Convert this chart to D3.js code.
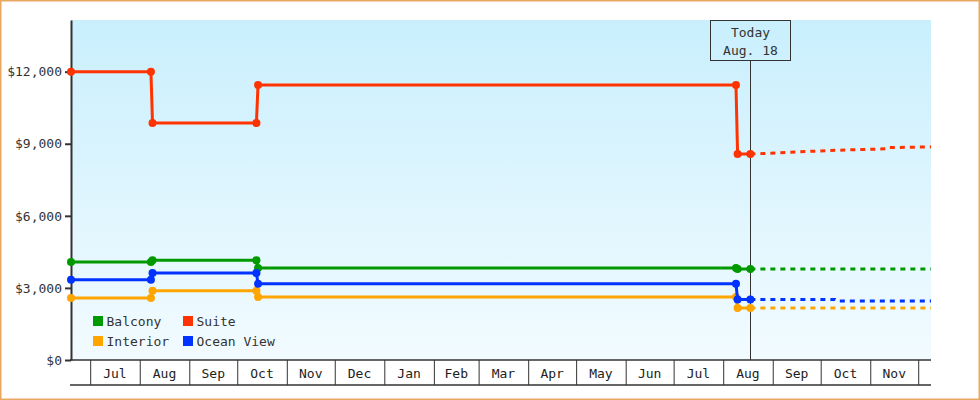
<!DOCTYPE html>
<html>
<head>
<meta charset="utf-8">
<script src="https://cdn.jsdelivr.net/npm/d3@7"></script>
<style>
  body { margin: 0; background: #fff; }
  text { font-family: "DejaVu Sans Mono", monospace; font-size: 13px; fill: #333; }
</style>
</head>
<body>
<div id="chart"></div>
<script>
// Observed prices (each price change is logged as two points, a day apart)
const obsDates  = ["2022-06-19", "2022-08-08", "2022-08-09", "2022-10-13", "2022-10-14", "2023-08-09", "2023-08-10", "2023-08-18"];
const balcony   = [4080, 4080, 4150, 4150, 3830, 3830, 3790, 3790];
const suite     = [12000, 12000, 9860, 9860, 11450, 11450, 8570, 8570];
const interior  = [2580, 2580, 2880, 2880, 2620, 2620, 2160, 2160];
const oceanView = [3340, 3340, 3620, 3620, 3170, 3170, 2520, 2520];

// Forecast prices after today
const forecastDates     = ["2023-08-18", "2023-10-10", "2023-10-11", "2023-11-12", "2023-11-13", "2023-12-09"];
const balconyForecast   = [3790, 3790, 3790, 3790, 3790, 3790];
const suiteForecast     = [8570, 8730, 8730, 8790, 8840, 8870];
const interiorForecast  = [2160, 2160, 2160, 2160, 2160, 2160];
const oceanViewForecast = [2520, 2520, 2460, 2460, 2460, 2460];

const seriesNames  = ["Balcony", "Suite", "Interior", "Ocean View"];
const seriesColors = ["#009900", "#ff3300", "#ffa500", "#0033ff"];

const yTicks = [0, 3000, 6000, 9000, 12000];
const monthLabels = ["Jul", "Aug", "Sep", "Oct", "Nov", "Dec", "Jan", "Feb", "Mar", "Apr", "May", "Jun", "Jul", "Aug", "Sep", "Oct", "Nov"];
const xDomain = ["2022-06-19", "2023-12-09"];
const yMax = 14150;
const today = "2023-08-18";
const todayLabel = ["Today", "Aug. 18"];

// Layout
const W = 980, H = 400;
const plot = {left: 71, right: 931, top: 20, bottom: 360};

const parse = d3.timeParse("%Y-%m-%d");

const svg = d3.select("#chart")
  .append("svg")
    .attr("width", W)
    .attr("height", H);

// outer border
svg.append("rect")
  .attr("x", 0.75).attr("y", 0.75)
  .attr("width", W - 1.5).attr("height", H - 1.5)
  .style("fill", "#fff")
  .style("stroke", "#e8a860")
  .style("stroke-width", 1.5);

// background gradient for plot area
const grad = svg.append("defs").append("linearGradient")
  .attr("id", "bg").attr("x1", 0).attr("y1", 0).attr("x2", 0).attr("y2", 1);
grad.append("stop").attr("offset", "0%").attr("stop-color", "#c9effd");
grad.append("stop").attr("offset", "100%").attr("stop-color", "#f2fbff");

svg.append("rect")
  .attr("x", plot.left).attr("y", plot.top)
  .attr("width", plot.right - plot.left)
  .attr("height", plot.bottom - plot.top)
  .style("fill", "url(#bg)");

// Scales
const x = d3.scaleTime()
  .domain(xDomain.map(parse))
  .range([plot.left, plot.right]);

const y = d3.scaleLinear()
  .domain([0, yMax])
  .range([plot.bottom, plot.top]);

// X axis: month cells
const boundaries = d3.timeMonth.range(x.domain()[0], x.domain()[1]);

const xAxisG = svg.append("g")
  .attr("transform", `translate(0,${plot.bottom})`)
  .call(d3.axisBottom(x).tickValues(boundaries).tickSize(25).tickSizeOuter(0).tickFormat(""));
xAxisG.select(".domain").attr("d", `M${plot.left - 1},0H${plot.right}`)
  .style("stroke", "#333").style("stroke-width", 1.5);
xAxisG.selectAll(".tick line").style("stroke", "#333").style("stroke-width", 1);

svg.append("line")
  .attr("x1", plot.left - 1).attr("x2", plot.right)
  .attr("y1", plot.bottom + 25).attr("y2", plot.bottom + 25)
  .style("stroke", "#333").style("stroke-width", 1.5);

svg.append("g").selectAll("text")
  .data(monthLabels)
  .enter()
  .append("text")
    .attr("x", (d, i) => (x(boundaries[i]) + x(boundaries[i + 1])) / 2)
    .attr("y", plot.bottom + 17.5)
    .attr("text-anchor", "middle")
    .style("fill", "#222")
    .text(d => d);

// Y axis
const yAxisG = svg.append("g")
  .attr("transform", `translate(${plot.left},0)`)
  .call(d3.axisLeft(y).tickValues(yTicks).tickSize(6).tickSizeOuter(0).tickPadding(3).tickFormat(d3.format("$,")));
yAxisG.select(".domain").style("stroke", "#333").style("stroke-width", 2);
yAxisG.selectAll(".tick line").style("stroke", "#333").style("stroke-width", 2);
yAxisG.selectAll(".tick text")
  .style("font-family", "'DejaVu Sans Mono', monospace")
  .style("font-size", "13px")
  .style("fill", "#333");

// Today marker
const tx = x(parse(today));
svg.append("line")
  .attr("x1", Math.round(tx) + 0.5).attr("x2", Math.round(tx) + 0.5)
  .attr("y1", plot.top + 40).attr("y2", plot.bottom)
  .style("stroke", "#333").style("stroke-width", 1);
svg.append("rect")
  .attr("x", Math.round(tx) - 39.5).attr("y", plot.top + 0.5)
  .attr("width", 80).attr("height", 40)
  .style("fill", "none").style("stroke", "#333").style("stroke-width", 1);
svg.selectAll(".today-label")
  .data(todayLabel)
  .enter()
  .append("text")
    .attr("class", "today-label")
    .attr("x", Math.round(tx) + 0.5)
    .attr("y", (d, i) => plot.top + 17 + i * 18)
    .attr("text-anchor", "middle")
    .text(d => d);

// Series
const observed = [balcony, suite, interior, oceanView];
const forecast = [balconyForecast, suiteForecast, interiorForecast, oceanViewForecast];
const obsX = obsDates.map(parse);
const fcX = forecastDates.map(parse);

const line = d3.line()
  .x(d => x(d.date))
  .y(d => y(d.value));

const series = seriesNames.map((name, i) => ({
  name: name,
  color: seriesColors[i],
  obs: observed[i].map((v, j) => ({date: obsX[j], value: v})),
  fc: forecast[i].map((v, j) => ({date: fcX[j], value: v}))
}));

const seriesG = svg.selectAll(".series")
  .data(series)
  .enter()
  .append("g")
  .attr("class", "series");

seriesG.append("path")
  .attr("d", d => line(d.fc))
  .style("fill", "none")
  .style("stroke", d => d.color)
  .style("stroke-width", 3)
  .style("stroke-dasharray", "5,5");

seriesG.append("path")
  .attr("d", d => line(d.obs))
  .style("fill", "none")
  .style("stroke", d => d.color)
  .style("stroke-width", 3);

seriesG.selectAll("circle")
  .data(d => d.obs.map(p => ({...p, color: d.color})))
  .enter()
  .append("circle")
    .attr("cx", d => x(d.date))
    .attr("cy", d => y(d.value))
    .attr("r", 4)
    .style("fill", d => d.color);

// Legend
const legend = svg.append("g")
  .selectAll("g")
  .data(series)
  .enter()
  .append("g")
    .attr("transform", (d, i) => `translate(${93 + (i % 2) * 90},${316 + Math.floor(i / 2) * 20})`);

legend.append("rect")
  .attr("width", 10).attr("height", 10)
  .style("fill", d => d.color);

legend.append("text")
  .attr("x", 13.5)
  .attr("y", 9.5)
  .text(d => d.name);
</script>
</body>
</html>
